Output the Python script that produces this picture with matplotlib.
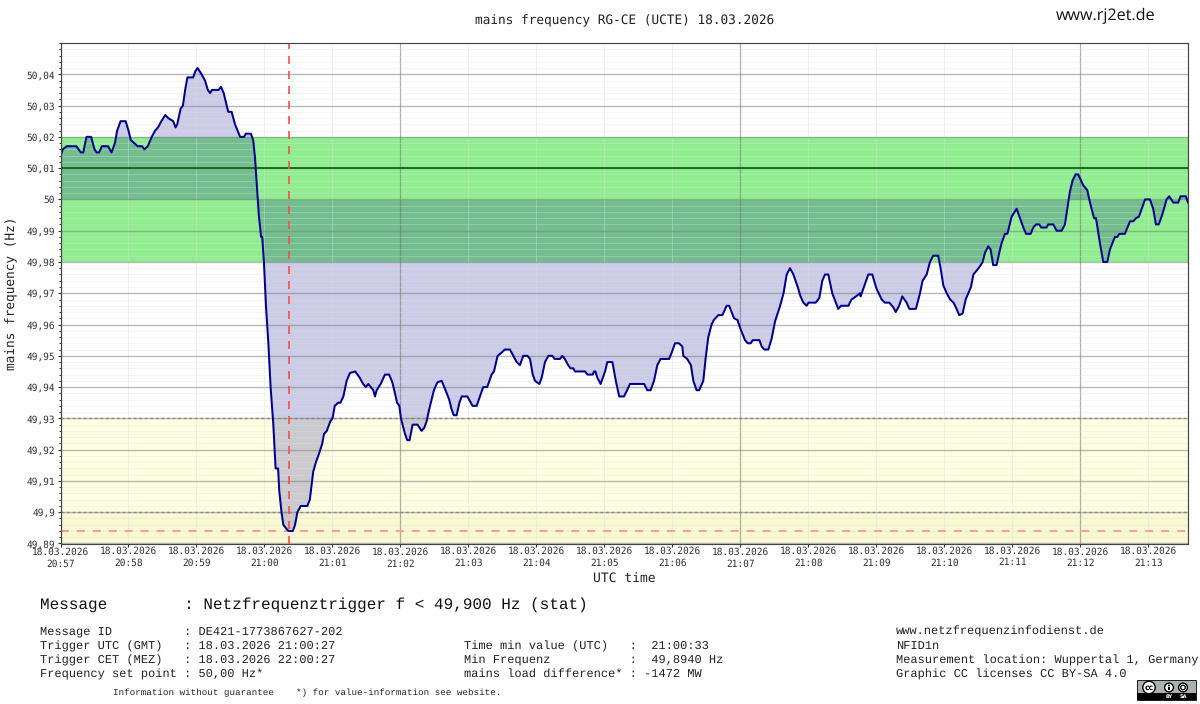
import matplotlib
matplotlib.use('Agg')
import matplotlib.pyplot as plt
from matplotlib.patches import Rectangle, Circle
from matplotlib.ticker import MultipleLocator

# linear text widths, so the mono columns line up
plt.rcParams['text.hinting'] = 'no_hinting'

# seconds after 20:57:00
times = [0, 2, 5.5, 14, 18, 20, 23, 27, 30, 32, 34, 36.5, 42, 45, 48, 50, 53, 57.5, 60, 62, 65, 68, 72, 74, 77,
         80.5, 83.5, 86, 89, 92.5, 95, 99.5, 101.5, 103, 106, 108, 110, 112, 117, 119, 121, 124.5, 127.5, 130, 132,
         133.7, 139.5, 141.6, 144, 148, 151, 154, 158.5, 162, 163.5, 168,
         170, 171.6, 173, 175, 177, 178, 179.5, 181.3, 183.4, 185.4, 187.8, 189.8, 192, 193, 195, 196.6, 198.7, 201,
         205, 207, 209, 212, 217.8, 220, 223, 225.4, 228.4, 231, 232.5, 235,
         238, 240, 242, 245, 247, 249.6, 252.5, 255.4, 260, 264, 267, 269.5, 271.6, 276, 277.5, 279, 282.5, 286.3,
         290, 292.8, 294.5, 297, 299, 300.4, 304, 306, 308, 310.7, 315, 318.6, 321, 323, 325.4, 329.5, 332.5, 336.3,
         339.2, 343, 345, 347, 349.5, 352, 354, 359, 363.6, 367.2, 373, 376.5, 380.4, 382.5, 385.7, 389.2, 392, 396.6,
         399.5, 402.5, 405.4, 408.3, 412,
         414.3, 416.7, 418.7, 422.5, 424.6, 427.5, 430.5, 434, 436, 440.8, 442.8, 445, 448, 450, 452.5, 454, 462.8,
         465, 469.6, 470.8, 472, 473.7, 476.6, 480.5, 482.5, 487, 490, 493, 497.2, 500, 502.5, 515, 517.8, 520.7,
         523.7, 526.6, 529.5, 537, 539.3, 542.2, 545.7, 548.7, 549.5, 553, 556.3, 558.4, 561.3, 563.6, 567.2, 569.2,
         571.6, 574.5, 576.6, 580.4, 584, 587.8, 590,
         594.3, 597.3, 599.6, 604, 606.4, 609, 610.8, 616.7, 618.7, 621, 624.6, 627.5, 630.5, 635, 638, 640.8, 643.7,
         646.7, 650.5, 653, 655.5, 658.4, 660, 666.4, 669.6, 672.2, 674.6, 677.5, 681, 686.3, 688.7, 695.2, 698, 702,
         705.5, 706, 712.8, 716.3, 720, 724.6, 727.5, 731.3, 734.9, 737, 740, 742.8, 746.6, 749, 754.8, 758.4, 760.7,
         764.3, 767.2, 770, 774.5, 776.6, 779, 782, 785, 788, 790.7, 793,
         796, 798.7, 801.7, 803.4, 805.5, 809, 812, 813.7, 815.8, 818.7, 820.7, 823, 826, 828.4, 830.4, 833.4, 835.5,
         839.3, 843.7, 846.6, 849.6, 852, 856, 858.4, 860.7, 863.7, 865.4, 870, 871.6, 876, 879, 883.4, 886.3, 888.4,
         890.7, 893, 895.7, 898, 902.5, 906, 908.4, 912, 913.7, 917.2, 920.1, 923.7, 926, 930.4, 932.5, 934.3, 939.2,
         943.7, 946.6, 949, 951.6, 957, 961.3, 964.2, 966.6, 969, 971.6, 974.5, 976, 978.3, 981.9, 986.3, 988.3, 993,
         994.9]
freqs = [50.014, 50.016, 50.017, 50.017, 50.015, 50.015, 50.020, 50.020, 50.016, 50.015, 50.015, 50.017, 50.017,
         50.015, 50.018, 50.022, 50.025, 50.025, 50.022, 50.019, 50.018, 50.017, 50.017, 50.016, 50.017,
         50.020, 50.022, 50.023, 50.025, 50.027, 50.026, 50.025, 50.023, 50.024, 50.029, 50.030, 50.035, 50.039,
         50.039, 50.041, 50.042, 50.040, 50.038, 50.035, 50.034,
         50.035, 50.035, 50.036, 50.034, 50.028, 50.028, 50.024, 50.020, 50.020, 50.021, 50.021,
         50.019, 50.0135, 50.006, 49.995, 49.988, 49.988, 49.980, 49.966, 49.954, 49.940, 49.928, 49.914, 49.914,
         49.907, 49.900, 49.896, 49.895, 49.894,
         49.894, 49.896, 49.900, 49.902, 49.902, 49.904, 49.913, 49.916, 49.919, 49.922, 49.925, 49.926,
         49.929, 49.930, 49.934, 49.935, 49.935, 49.937, 49.942, 49.9445, 49.945, 49.943, 49.941, 49.940, 49.941,
         49.939, 49.937, 49.939, 49.941, 49.944,
         49.944, 49.9415, 49.939, 49.935, 49.934, 49.930, 49.925, 49.923, 49.923, 49.928, 49.928, 49.926, 49.927,
         49.929, 49.933, 49.939, 49.9415, 49.942,
         49.9395, 49.936, 49.933, 49.931, 49.931, 49.935, 49.937, 49.937, 49.934, 49.934, 49.940, 49.940, 49.944,
         49.945, 49.950, 49.951, 49.952, 49.952,
         49.950, 49.948, 49.947, 49.950, 49.950,
         49.949, 49.944, 49.942, 49.941, 49.943, 49.948, 49.950, 49.950, 49.949, 49.949, 49.950, 49.949, 49.947,
         49.946, 49.946, 49.945, 49.945,
         49.944, 49.944, 49.945, 49.945, 49.943, 49.941, 49.945, 49.948, 49.948, 49.942, 49.937, 49.937, 49.939,
         49.941, 49.941, 49.939, 49.939,
         49.942, 49.947, 49.949, 49.949, 49.951, 49.954, 49.954, 49.953, 49.950, 49.949, 49.947, 49.942, 49.939,
         49.939, 49.942, 49.949,
         49.956, 49.960, 49.9615, 49.963, 49.963, 49.966, 49.966,
         49.962, 49.9615, 49.959, 49.955, 49.954, 49.954, 49.955, 49.955, 49.953, 49.952, 49.952, 49.9555, 49.961,
         49.966, 49.970, 49.976, 49.978,
         49.976, 49.972, 49.969, 49.967, 49.966, 49.967, 49.967, 49.9685, 49.974, 49.976, 49.976, 49.970, 49.965,
         49.966, 49.966, 49.968, 49.969,
         49.970, 49.969, 49.976, 49.976, 49.9715, 49.968, 49.967, 49.967, 49.9655, 49.964, 49.966, 49.969, 49.967,
         49.965, 49.965, 49.970, 49.974,
         49.976, 49.980, 49.982, 49.982, 49.978, 49.9725, 49.970, 49.968, 49.967, 49.965, 49.963,
         49.9635, 49.968, 49.9705, 49.972, 49.976, 49.9775, 49.979, 49.980, 49.983, 49.985, 49.984, 49.979, 49.979,
         49.983, 49.986, 49.989, 49.989,
         49.9945, 49.997, 49.994, 49.991, 49.989, 49.989, 49.991, 49.992, 49.992, 49.991, 49.991, 49.992, 49.992,
         49.990, 49.990, 49.992, 49.997,
         50.0025, 50.006, 50.008, 50.008, 50.0045, 50.003, 49.999, 49.994, 49.994, 49.986, 49.980, 49.980, 49.984,
         49.988, 49.988, 49.989, 49.989,
         49.993, 49.993, 49.994, 49.9945, 50.000, 50.000, 49.997, 49.992, 49.992, 49.9945, 49.998, 50.000, 50.001,
         49.999, 49.999, 50.001, 50.001,
         49.999]

y_ticks = [49.89, 49.90, 49.91, 49.92, 49.93, 49.94, 49.95, 49.96, 49.97, 49.98, 49.99, 50.00, 50.01, 50.02, 50.03, 50.04]
y_labels = ['49,89', '49,9', '49,91', '49,92', '49,93', '49,94', '49,95', '49,96', '49,97', '49,98', '49,99',
            '50', '50,01', '50,02', '50,03', '50,04']
major_secs = [0, 300, 600, 900]
major_names = ['20:57', '21:02', '21:07', '21:12']
minor_secs = [60, 120, 180, 240, 360, 420, 480, 540, 660, 720, 780, 840, 960]
minor_names = ['20:58', '20:59', '21:00', '21:01', '21:03', '21:04', '21:05', '21:06', '21:08', '21:09', '21:10', '21:11', '21:13']
date_str = '18.03.2026'
trigger_sec = 201.6
min_freq = 49.894

MONO = 'DejaVu Sans Mono'
TXT = 'Liberation Mono'

fig = plt.figure(figsize=(12, 7.04), dpi=100)
ax = fig.add_axes([60.5 / 1200, 1 - 543.5 / 704, (1188 - 60.5) / 1200, (543.5 - 43) / 704])
ax.set_xlim(0, 994.9)
ax.set_ylim(49.89, 50.05)

# bands
ax.axhspan(49.98, 50.02, color='#90ee90', lw=0, zorder=1)
ax.axhspan(49.90, 49.93, color='#fefee0', lw=0, zorder=1)
ax.axhspan(49.89, 49.90, color='#f8f8d2', lw=0, zorder=1)

ax.fill_between(times, freqs, 50.0, color='#00008b', alpha=0.2, lw=0, zorder=1.5)

# grid
ax.set_axisbelow(False)
ax.set_yticks(y_ticks, y_labels)
ax.yaxis.set_minor_locator(MultipleLocator(0.002))
ax.set_xticks(major_secs, [date_str + '\n' + n for n in major_names])
ax.set_xticks(minor_secs, [date_str + '\n' + n for n in minor_names], minor=True)
ax.grid(True, which='major', axis='y', color='#808080', lw=1.0, alpha=0.55)
ax.grid(True, which='minor', axis='y', color='#dddddd', lw=0.7, alpha=0.35)
ax.grid(True, which='major', axis='x', color='#707070', lw=0.9, alpha=0.55)
ax.grid(True, which='minor', axis='x', color='#dddddd', lw=0.7, alpha=0.4)

ax.tick_params(axis='y', which='major', length=2.5, width=0.8, pad=1.5, color='#333333', labelcolor='#333333', labelsize=6.85)
ax.tick_params(axis='y', which='minor', length=1.5, width=0.7, color='#333333')
ax.tick_params(axis='x', which='major', length=2, width=0.8, pad=0.9, color='#333333', labelcolor='#333333', labelsize=6.85)
ax.tick_params(axis='x', which='minor', length=2, width=0.8, pad=0.2, color='#333333', labelcolor='#333333', labelsize=6.85)
for lab in ax.get_xticklabels(which='both') + ax.get_yticklabels():
    lab.set_family(MONO)
for lab in ax.get_xticklabels(which='both'):
    lab.set_linespacing(1.2)

# reference lines
ax.axhline(50.01, color='#14601c', lw=1.3, zorder=3)
ax.axhline(49.93, color='#888888', lw=1.0, ls=(0, (2, 2)), zorder=3)
ax.axhline(49.90, color='#888888', lw=1.0, ls=(0, (2, 2)), zorder=3)
ax.axhline(min_freq, color='#f7a08c', lw=1.4, ls=(0, (4.1, 4.1)), zorder=3)
ax.axvline(trigger_sec, color='#ff4a4a', lw=1.2, ls=(0, (4.8, 4.2)), zorder=3)

ax.plot(times, freqs, color='#000090', lw=1.45, zorder=5, solid_joinstyle='round')

for s in ax.spines.values():
    s.set_color('#444444')
    s.set_linewidth(0.85)
    s.set_zorder(6)

# everything around the plot, placed in pixels
ov = fig.add_axes([0, 0, 1, 1], facecolor='none')
ov.set_xlim(0, 1200)
ov.set_ylim(704, 0)
ov.axis('off')

ov.text(624.5, 21, 'mains frequency RG-CE (UCTE) 18.03.2026', family=MONO, fontsize=9.2, ha='center', va='center', color='#222222')
ov.text(1105.5, 16, 'www.rj2et.de', family='Open Sans', fontsize=11.6, ha='center', va='center', color='#111111')
ov.text(11.5, 293, 'mains frequency (Hz)', family=MONO, fontsize=9.2, rotation=90, ha='center', va='center', color='#222222')
ov.text(624.5, 579, 'UTC time', family=MONO, fontsize=9.4, ha='center', va='center', color='#222222')

ov.text(40, 605, 'Message        : Netzfrequenztrigger f < 49,900 Hz (stat)', family=TXT, fontsize=11.5, va='center', color='#111111')

left_lines = ['Message ID          : DE421-1773867627-202',
              'Trigger UTC (GMT)   : 18.03.2026 21:00:27',
              'Trigger CET (MEZ)   : 18.03.2026 22:00:27',
              'Frequency set point : 50,00 Hz*']
mid_lines = ['Time min value (UTC)   :  21:00:33',
             'Min Frequenz           :  49,8940 Hz',
             'mains load difference* : -1472 MW']
right_lines = ['www.netzfrequenzinfodienst.de', 'NFID1n',
               'Measurement location: Wuppertal 1, Germany', 'Graphic CC licenses CC BY-SA 4.0']
row_y = [631, 646, 660, 674]
for y, s in zip(row_y, left_lines):
    ov.text(40, y, s, family=TXT, fontsize=8.65, va='center', color='#222222')
for y, s in zip(row_y[1:], mid_lines):
    ov.text(464, y, s, family=TXT, fontsize=8.65, va='center', color='#222222')
for y, s in zip(row_y, right_lines):
    ov.text(896, y, s, family=TXT, fontsize=8.65, va='center', color='#222222')
ov.text(113, 693, 'Information without guarantee    *) for value-information see website.', family=TXT, fontsize=6.7, va='center', color='#222222')

# CC BY-SA badge
ov.add_patch(Rectangle((1137, 680), 59, 19.5, fc='#aab2ab', ec='black', lw=0.6))
ov.add_patch(Rectangle((1137, 693), 59, 6.5, fc='black', ec='black', lw=0))
for cx, r in [(1149, 6.2), (1169, 4.4), (1183, 4.4)]:
    ov.add_patch(Circle((cx, 687.5), r, fc='white', ec='black', lw=1.0))
ov.text(1149, 687.2, 'cc', family='DejaVu Sans', weight='bold', fontsize=5.5, ha='center', va='center')
ov.add_patch(Circle((1169, 685.5), 1.0, fc='black', lw=0))
ov.add_patch(Rectangle((1168, 687), 2, 3.2, fc='black', lw=0))
ov.add_patch(Circle((1183, 687.5), 2.3, fc='none', ec='black', lw=0.9))
ov.text(1169, 696.4, 'BY', family='DejaVu Sans', weight='bold', fontsize=3.6, color='white', ha='center', va='center')
ov.text(1183, 696.4, 'SA', family='DejaVu Sans', weight='bold', fontsize=3.6, color='white', ha='center', va='center')

fig.savefig('out.png', dpi=100)
